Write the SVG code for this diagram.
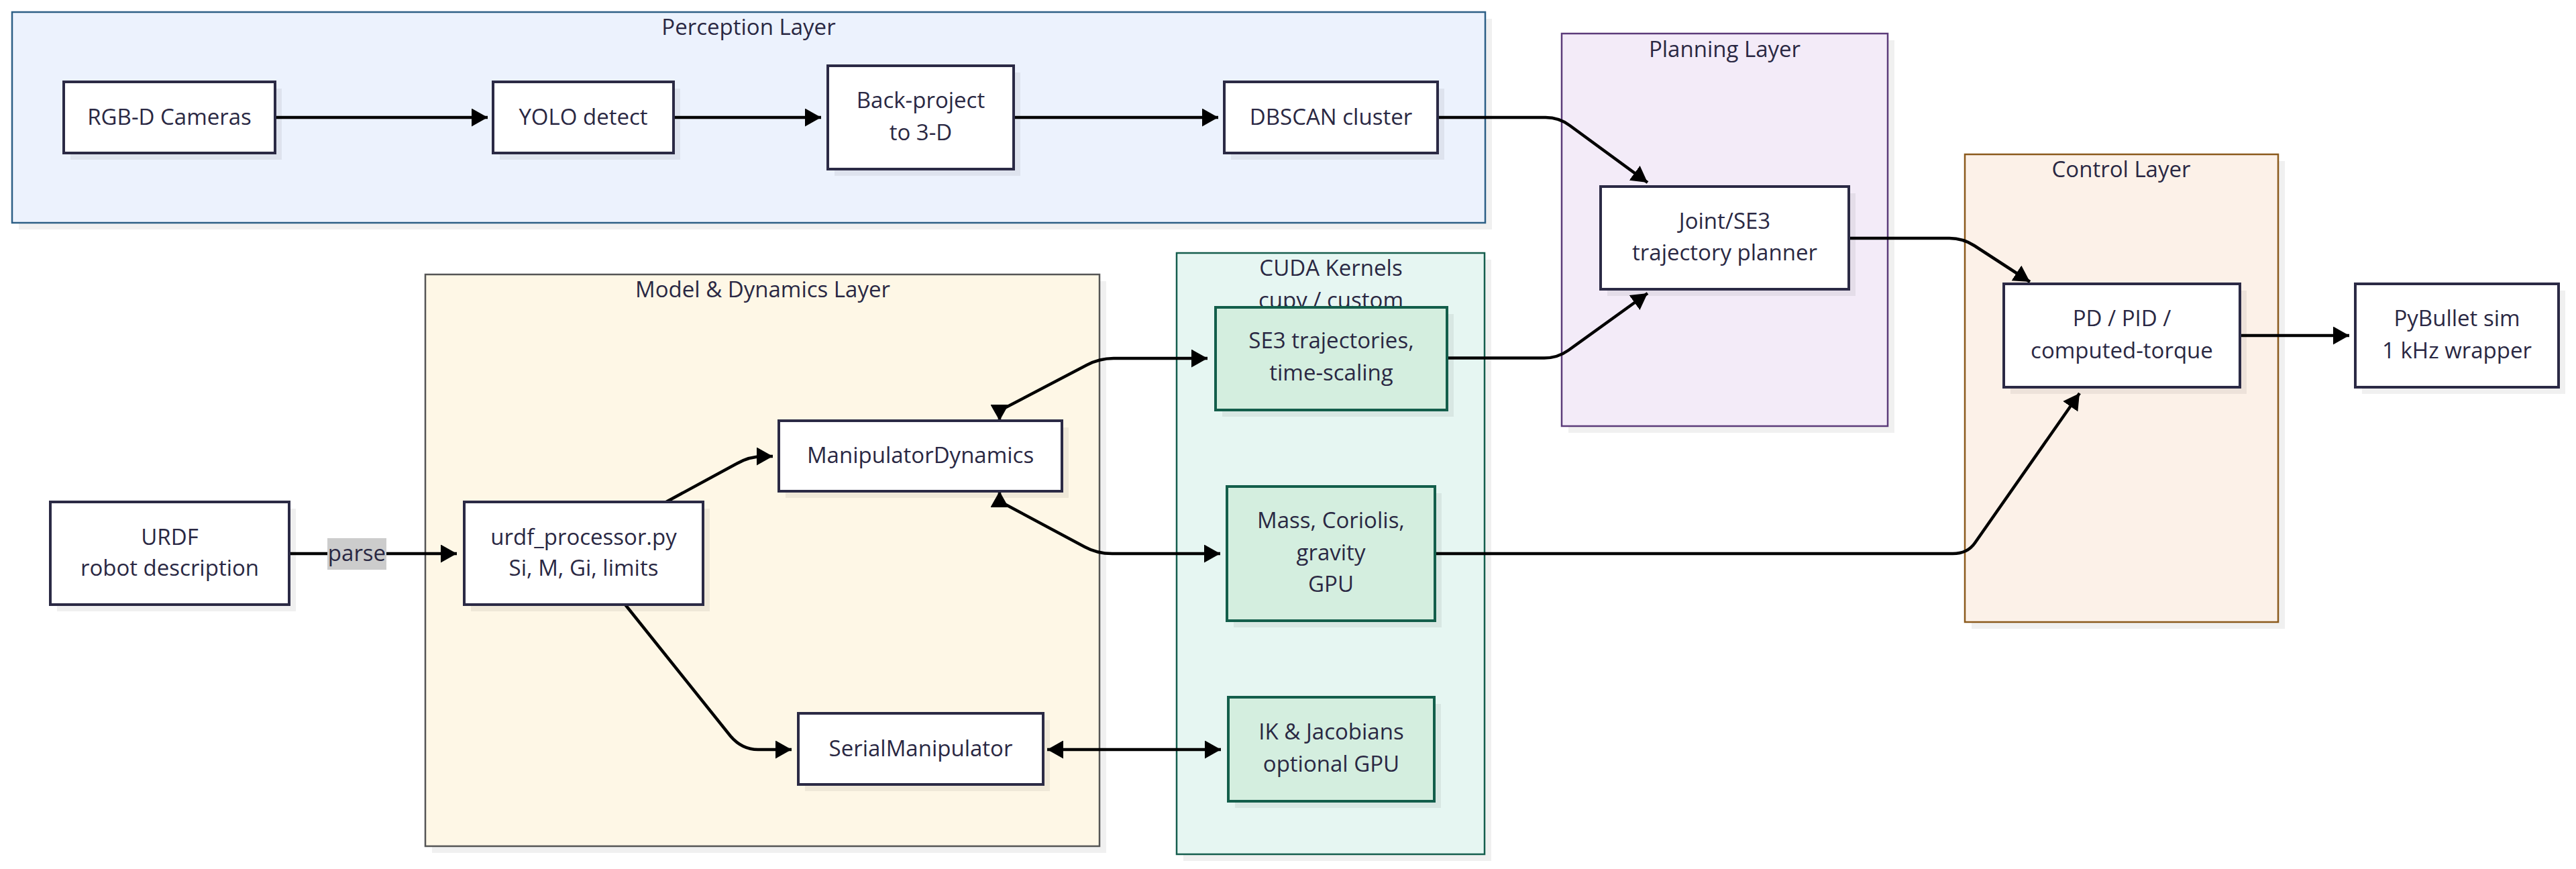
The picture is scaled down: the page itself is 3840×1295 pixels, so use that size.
<svg xmlns="http://www.w3.org/2000/svg" width="3840" height="1295" viewBox="0 0 3840 1295">
<defs>
<style>
text{font-family:"Open Sans","Noto Sans","Liberation Sans",sans-serif;font-size:33px;fill:#2a2843;text-anchor:middle}
.sh{fill:#000;fill-opacity:0.06}
.node{fill:#ffffff;stroke:#2b2a45;stroke-width:4}
.gnode{fill:#d4eedf;stroke:#135e4b;stroke-width:4}
.edge{fill:none;stroke:#000;stroke-width:4.5;stroke-linejoin:round}
.lbl{fill:#cccccc}
</style>
<marker id="ae" markerUnits="userSpaceOnUse" markerWidth="24" markerHeight="27" viewBox="0 0 24 27" refX="24" refY="13.5" orient="auto"><path d="M0,0 L24,13.5 L0,27 z" fill="#000"/></marker>
<marker id="as" markerUnits="userSpaceOnUse" markerWidth="24" markerHeight="27" viewBox="0 0 24 27" refX="0" refY="13.5" orient="auto"><path d="M24,0 L0,13.5 L24,27 z" fill="#000"/></marker>
</defs>
<rect width="3840" height="1295" fill="#ffffff"/>

<g id="clusters">
<g id="cluster-perception">
<rect class="sh" x="28" y="28" width="2196" height="314"/>
<rect x="18" y="18" width="2196" height="314" fill="#ecf2fd" stroke="#2d5f86" stroke-width="2.5"/>
<text x="1116" y="52">Perception Layer</text>
</g>
<g id="cluster-planning">
<rect class="sh" x="2338" y="60" width="486" height="585"/>
<rect x="2328" y="50" width="486" height="585" fill="#f3ebf8" stroke="#5b3b7a" stroke-width="2.5"/>
<text x="2571" y="85">Planning Layer</text>
</g>
<g id="cluster-control">
<rect class="sh" x="2939" y="240" width="467" height="697"/>
<rect x="2929" y="230" width="467" height="697" fill="#fcf1e8" stroke="#8b5a1c" stroke-width="2.5"/>
<text x="3162" y="264">Control Layer</text>
</g>
<g id="cluster-model">
<rect class="sh" x="644" y="419" width="1005" height="852"/>
<rect x="634" y="409" width="1005" height="852" fill="#fef7e6" stroke="#555555" stroke-width="2.5"/>
<text x="1137" y="443">Model &amp; Dynamics Layer</text>
</g>
<g id="cluster-cuda">
<rect class="sh" x="1764" y="387" width="459" height="896"/>
<rect x="1754" y="377" width="459" height="896" fill="#e6f6f2" stroke="#155e4e" stroke-width="2.5"/>
<text x="1984" y="411">CUDA Kernels</text>
<text x="1984" y="459">cupy / custom</text>
</g>
</g>

<g id="connectors">
<path class="edge" d="M410,175 L727,175" marker-end="url(#ae)"/>
<path class="edge" d="M1004,175 L1224,175" marker-end="url(#ae)"/>
<path class="edge" d="M1511,175 L1816,175" marker-end="url(#ae)"/>
<path class="edge" d="M2143,175 L2304,175 Q2324,175 2340,187 L2456,272" marker-end="url(#ae)"/>
<path class="edge" d="M2756,355 L2906,355 Q2926,355 2943,366 L3026,420" marker-end="url(#ae)"/>
<path class="edge" d="M2157,533.5 L2302,533.5 Q2322,533.5 2338,522 L2456,437" marker-end="url(#ae)"/>
<path class="edge" d="M3339,500 L3502,500" marker-end="url(#ae)"/>
<path class="edge" d="M431,825 L681,825" marker-end="url(#ae)"/>
<path class="edge" d="M993,748 L1098,691 Q1117,680 1139,680 L1152,680" marker-end="url(#ae)"/>
<path class="edge" d="M932,901 L1089,1097 Q1106,1117 1130,1117 L1180,1117" marker-end="url(#ae)"/>
<path class="edge" d="M1561,1117 L1820,1117" marker-start="url(#as)" marker-end="url(#ae)"/>
<path class="edge" d="M1490,627 L1490,612 L1620,544 Q1639,534 1660,534 L1800,534" marker-start="url(#as)" marker-end="url(#ae)"/>
<path class="edge" d="M1490,732 L1490,747 L1617,815 Q1635,825 1658,825 L1819,825" marker-start="url(#as)" marker-end="url(#ae)"/>
<path class="edge" d="M2138,825 L2911,825 Q2933,825 2944,809 L3100,586" marker-end="url(#ae)"/>
<g id="label-parse">
<rect class="lbl" x="488" y="802" width="88" height="47"/>
<text x="532" y="836">parse</text>
</g>
</g>

<g id="node-rgbd">
<rect class="sh" x="105" y="132" width="315" height="106"/>
<rect class="node" x="95" y="122" width="315" height="106"/>
<text x="252.5" y="186">RGB-D Cameras</text>
</g>
<g id="node-yolo">
<rect class="sh" x="745" y="132" width="269" height="106"/>
<rect class="node" x="735" y="122" width="269" height="106"/>
<text x="869.5" y="186">YOLO detect</text>
</g>
<g id="node-backproject">
<rect class="sh" x="1244" y="108" width="277" height="154"/>
<rect class="node" x="1234" y="98" width="277" height="154"/>
<text x="1372.5" y="161">Back-project</text>
<text x="1372.5" y="209">to 3-D</text>
</g>
<g id="node-dbscan">
<rect class="sh" x="1835" y="132" width="318" height="106"/>
<rect class="node" x="1825" y="122" width="318" height="106"/>
<text x="1984" y="186">DBSCAN cluster</text>
</g>
<g id="node-planner">
<rect class="sh" x="2396" y="288" width="370" height="153"/>
<rect class="node" x="2386" y="278" width="370" height="153"/>
<text x="2571" y="341">Joint/SE3</text>
<text x="2571" y="388">trajectory planner</text>
</g>
<g id="node-controller">
<rect class="sh" x="2997" y="433" width="352" height="154"/>
<rect class="node" x="2987" y="423" width="352" height="154"/>
<text x="3163" y="486">PD / PID /</text>
<text x="3163" y="534">computed-torque</text>
</g>
<g id="node-pybullet">
<rect class="sh" x="3521" y="433" width="303" height="154"/>
<rect class="node" x="3511" y="423" width="303" height="154"/>
<text x="3662.5" y="486">PyBullet sim</text>
<text x="3662.5" y="534">1 kHz wrapper</text>
</g>
<g id="node-urdf">
<rect class="sh" x="85" y="758" width="356" height="153"/>
<rect class="node" x="75" y="748" width="356" height="153"/>
<text x="253" y="812">URDF</text>
<text x="253" y="858">robot description</text>
</g>
<g id="node-urdfproc">
<rect class="sh" x="702" y="758" width="356" height="153"/>
<rect class="node" x="692" y="748" width="356" height="153"/>
<text x="870" y="812">urdf_processor.py</text>
<text x="870" y="858">Si, M, Gi, limits</text>
</g>
<g id="node-manipdyn">
<rect class="sh" x="1171" y="637" width="422" height="105"/>
<rect class="node" x="1161" y="627" width="422" height="105"/>
<text x="1372" y="690">ManipulatorDynamics</text>
</g>
<g id="node-serial">
<rect class="sh" x="1200" y="1073" width="365" height="106"/>
<rect class="node" x="1190" y="1063" width="365" height="106"/>
<text x="1372.5" y="1127">SerialManipulator</text>
</g>
<g id="node-se3">
<rect class="sh" x="1822" y="468" width="345" height="153"/>
<rect class="gnode" x="1812" y="458" width="345" height="153"/>
<text x="1984.5" y="519">SE3 trajectories,</text>
<text x="1984.5" y="567">time-scaling</text>
</g>
<g id="node-mass">
<rect class="sh" x="1839" y="735" width="310" height="200"/>
<rect class="gnode" x="1829" y="725" width="310" height="200"/>
<text x="1984" y="787">Mass, Coriolis,</text>
<text x="1984" y="834.5">gravity</text>
<text x="1984" y="882">GPU</text>
</g>
<g id="node-ik">
<rect class="sh" x="1841" y="1049" width="307" height="155"/>
<rect class="gnode" x="1831" y="1039" width="307" height="155"/>
<text x="1984.5" y="1102">IK &amp; Jacobians</text>
<text x="1984.5" y="1150">optional GPU</text>
</g>
</svg>
